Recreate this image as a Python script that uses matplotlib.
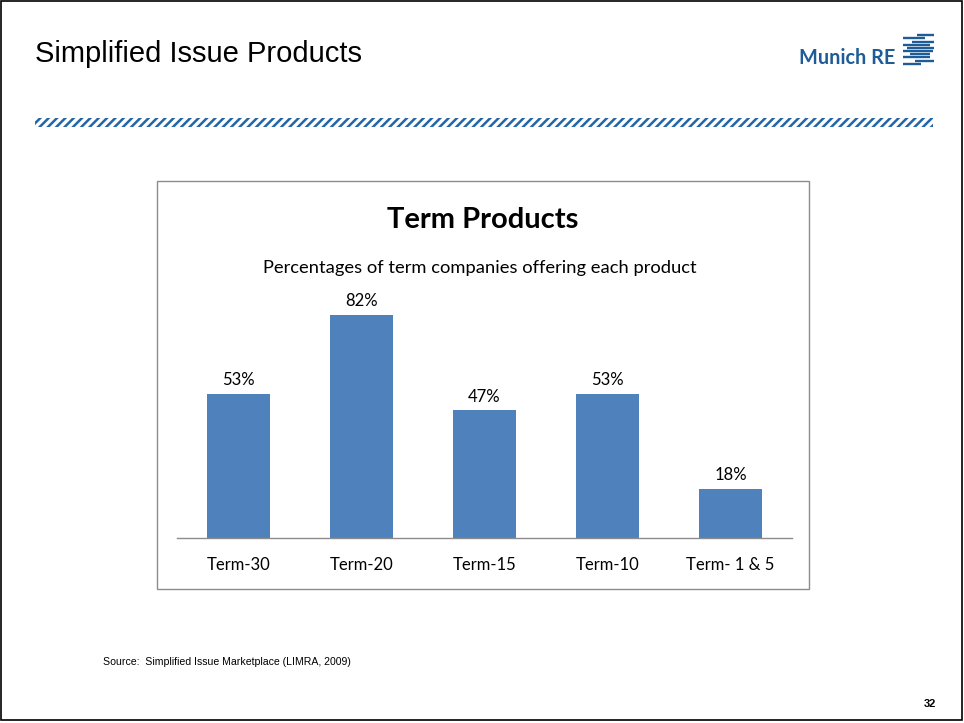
import matplotlib
matplotlib.use("Agg")
import matplotlib.pyplot as plt
from matplotlib.patches import Rectangle
from matplotlib.lines import Line2D

# Data
categories = ["Term-30", "Term-20", "Term-15", "Term-10", "Term- 1 & 5"]
values = [53, 82, 47, 53, 18]

W, H = 964, 723
fig = plt.figure(figsize=(W / 100, H / 100), dpi=100)
fig.patch.set_facecolor("white")


def fx(x):
    return x / W


def fy(y):
    return 1 - y / H


# Slide border
fig.add_artist(Rectangle((fx(1), fy(720)), fx(961), 719 / H, transform=fig.transFigure,
                         fill=False, edgecolor="black", linewidth=1.2))

# Slide title
fig.text(fx(35), fy(54), "Simplified Issue Products", fontsize=21,
         family="Liberation Sans", va="center", ha="left", color="black")

# Logo
fig.text(fx(895), fy(58), "Munich RE", fontsize=14.3, family="Lato", weight="bold",
         color="#1f5c97", ha="right", va="center")
stripe_rows = [(35, 917, 934), (38, 903, 925), (41.5, 912, 934), (45, 903, 930),
               (48, 907, 934), (51, 903, 933), (54, 910, 930), (57, 903, 930),
               (61, 915, 934), (64, 903, 921)]
for y, x0, x1 in stripe_rows:
    fig.add_artist(Line2D([fx(x0), fx(x1)], [fy(y), fy(y)], transform=fig.transFigure,
                          color="#1f5c97", linewidth=1.7, solid_capstyle="butt"))

# Hatched divider band
plt.rcParams["hatch.linewidth"] = 1.8
plt.rcParams["hatch.color"] = "#2366a8"
fig.add_artist(Rectangle((fx(35), fy(127)), fx(898), 9 / H, transform=fig.transFigure,
                         facecolor="white", edgecolor="#2366a8", linewidth=0,
                         hatch="////"))

# Chart frame
fig.add_artist(Rectangle((fx(157), fy(589)), fx(652), 408 / H, transform=fig.transFigure,
                         fill=False, edgecolor="#8c8c8c", linewidth=1.0))

fig.text(fx(483), fy(220), "Term Products", fontsize=21, family="Lato", weight="bold",
         ha="center", va="center", color="black")
fig.text(fx(480), fy(268), "Percentages of term companies offering each product",
         fontsize=13.2, family="Lato", ha="center", va="center", color="black")

# Bars
ax = fig.add_axes([fx(177), fy(538), fx(615), 248 / H])
x = range(len(categories))
bars = ax.bar(x, values, width=0.51, color="#4f81bd", zorder=2)
ax.set_xlim(-0.5, len(categories) - 0.5)
ax.set_ylim(0, 91.2)
ax.set_xticks(list(x))
ax.set_xticklabels(categories, fontsize=12, family="Lato")
ax.tick_params(axis="x", length=0, pad=14)
ax.set_yticks([])
for side in ["top", "right", "left"]:
    ax.spines[side].set_visible(False)
ax.spines["bottom"].set_color("#8c8c8c")
ax.spines["bottom"].set_linewidth(1.0)
ax.patch.set_alpha(0)

for xi, v in zip(x, values):
    ax.annotate(f"{v}%", (xi, v), xytext=(0, 4), textcoords="offset points",
                ha="center", va="bottom", fontsize=12, family="Lato")

# Footer
fig.text(fx(103), fy(662), "Source:  Simplified Issue Marketplace (LIMRA, 2009)",
         fontsize=7.6, family="Liberation Sans", ha="left", va="center")
fig.text(fx(936), fy(704), "32", fontsize=8, family="Liberation Sans", weight="bold",
         ha="right", va="center")

fig.savefig("out.png", dpi=100)
